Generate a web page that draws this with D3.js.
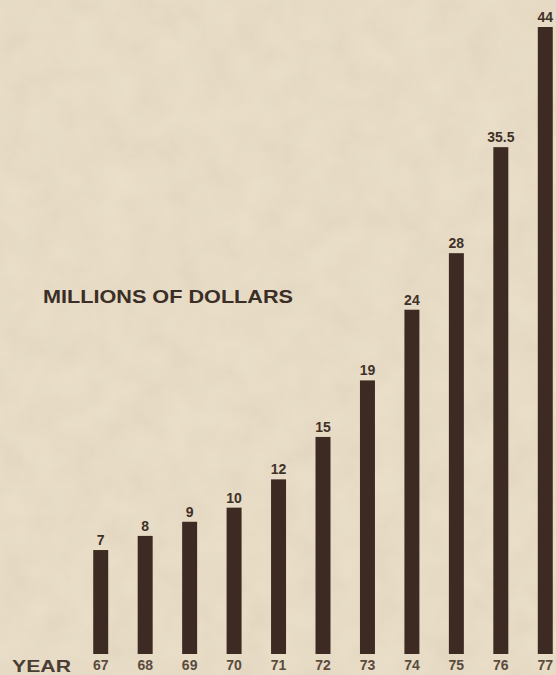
<!DOCTYPE html>
<html><head><meta charset="utf-8">
<script src="https://cdn.jsdelivr.net/npm/d3@7"></script>
<style>html,body{margin:0;padding:0;background:#e6dac3;}svg{display:block;}</style>
</head><body>
<script>
const years = ["67","68","69","70","71","72","73","74","75","76","77"];
const values = [7, 8, 9, 10, 12, 15, 19, 24, 28, 35.5, 44];
const valueLabels = ["7","8","9","10","12","15","19","24","28","35.5","44"];
const axisTitle = "YEAR";
const unitTitle = "MILLIONS OF DOLLARS";

const W = 556, H = 675;
const svg = d3.select("body").append("svg").attr("width", W).attr("height", H);

const defs = svg.append("defs");
const f = defs.append("filter").attr("id","paper").attr("x",0).attr("y",0).attr("width","100%").attr("height","100%");
f.append("feTurbulence").attr("type","fractalNoise").attr("baseFrequency","0.03").attr("numOctaves",4).attr("seed",3).attr("result","n");
f.append("feColorMatrix").attr("in","n").attr("type","matrix")
  .attr("values","0 0 0 0 0.55  0 0 0 0 0.45  0 0 0 0 0.33  0 0 0 0.25 0").attr("result","c");
f.append("feComposite").attr("in","c").attr("in2","SourceGraphic").attr("operator","over");

svg.append("rect").attr("width",W).attr("height",H).attr("fill","#ebe0ca").attr("filter","url(#paper)");

const x = d3.scaleBand().domain(years).range([71, 575]).paddingInner(0.663).paddingOuter(0.5);
const y = d3.scaleLinear().domain([0, 44]).range([649, 27]);
const baseY = 654;

const barColor = "#3d2a22";
svg.append("g").selectAll("rect").data(values).join("rect")
  .attr("x", (d,i) => x(years[i]))
  .attr("width", x.bandwidth())
  .attr("y", d => y(d))
  .attr("height", d => baseY - y(d))
  .attr("fill", barColor);

svg.append("g").selectAll("text").data(values).join("text")
  .attr("x", (d,i) => x(years[i]) + x.bandwidth()/2)
  .attr("y", d => y(d) - 5)
  .attr("text-anchor","middle")
  .attr("font-family","'Liberation Sans', Arial, sans-serif")
  .attr("font-weight","bold").attr("font-size", 14)
  .attr("fill","#3f3128")
  .text((d,i) => valueLabels[i]);

const xa = svg.append("g").attr("transform",`translate(0,${baseY})`)
  .call(d3.axisBottom(x).tickSize(0).tickPadding(6));
xa.select(".domain").remove();
xa.selectAll("text")
  .attr("font-family","'Liberation Sans', Arial, sans-serif")
  .attr("font-weight","bold").attr("font-size", 14)
  .attr("fill","#5b4b3e");

svg.append("text").attr("x", 12).attr("y", 672)
  .attr("font-family","'Liberation Sans', Arial, sans-serif")
  .attr("font-weight","bold").attr("font-size", 16.5)
  .attr("textLength", 59).attr("lengthAdjust","spacingAndGlyphs")
  .attr("fill","#4a3d33").text(axisTitle);

svg.append("text").attr("x", 43).attr("y", 303)
  .attr("font-family","'Liberation Sans', Arial, sans-serif")
  .attr("font-weight","bold").attr("font-size", 19)
  .attr("textLength", 250).attr("lengthAdjust","spacingAndGlyphs")
  .attr("fill","#3a2e26").text(unitTitle);
</script>
</body></html>
